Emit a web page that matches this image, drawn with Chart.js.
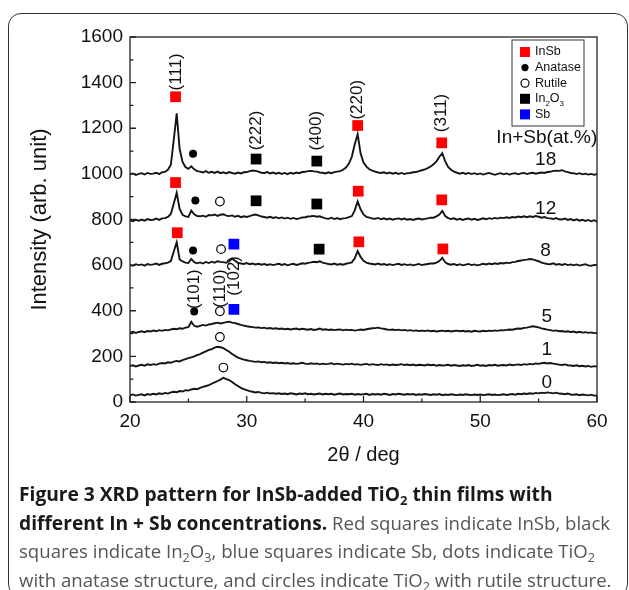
<!DOCTYPE html>
<html>
<head>
<meta charset="UTF-8">
<title>XRD pattern</title>
<style>
body { margin: 0; background: #fff; }
#wrap { position: relative; width: 629px; height: 590px; overflow: hidden; }
#chart { position: absolute; left: 0; top: 0; }
#frame { position: absolute; left: 8px; top: 13px; width: 620px; height: 584px; border: 1.5px solid #333; border-radius: 13px; box-sizing: border-box; }
#caption { position: absolute; left: 19px; top: 480px; font-family: "Open Sans"; font-size: 18.6px; line-height: 28.5px; color: #555; white-space: nowrap; }
#caption b { color: #1a1a1a; font-weight: 700; font-size: 19.2px; }
#caption sub { font-size: 0.68em; line-height: 0; vertical-align: -0.28em; }
</style>
</head>
<body>
<div id="wrap">
<div id="frame"></div>
<canvas id="chart" width="629" height="590"></canvas>
<div id="caption">
<b>Figure 3 XRD pattern for InSb-added TiO<sub>2</sub> thin films with</b><br>
<b>different In + Sb concentrations.</b> Red squares indicate InSb, black<br>
squares indicate In<sub>2</sub>O<sub>3</sub>, blue squares indicate Sb, dots indicate TiO<sub>2</sub><br>
with anatase structure, and circles indicate TiO<sub>2</sub> with rutile structure.
</div>
</div>
<script src="https://cdn.jsdelivr.net/npm/chart.js@4.4.1/dist/chart.umd.min.js"></script>
<script>
// 2theta grid (deg)
const twoTheta = [
  20,20.25,20.5,20.75, 21,21.25,21.5,21.75, 22,22.25,22.5,22.75, 23,23.25,23.5,23.75,
  24,24.25,24.5,24.75, 25,25.25,25.5,25.75, 26,26.25,26.5,26.75, 27,27.25,27.5,27.75,
  28,28.25,28.5,28.75, 29,29.25,29.5,29.75, 30,30.25,30.5,30.75, 31,31.25,31.5,31.75,
  32,32.25,32.5,32.75, 33,33.25,33.5,33.75, 34,34.25,34.5,34.75, 35,35.25,35.5,35.75,
  36,36.25,36.5,36.75, 37,37.25,37.5,37.75, 38,38.25,38.5,38.75, 39,39.25,39.5,39.75,
  40,40.25,40.5,40.75, 41,41.25,41.5,41.75, 42,42.25,42.5,42.75, 43,43.25,43.5,43.75,
  44,44.25,44.5,44.75, 45,45.25,45.5,45.75, 46,46.25,46.5,46.75, 47,47.25,47.5,47.75,
  48,48.25,48.5,48.75, 49,49.25,49.5,49.75, 50,50.25,50.5,50.75, 51,51.25,51.5,51.75,
  52,52.25,52.5,52.75, 53,53.25,53.5,53.75, 54,54.25,54.5,54.75, 55,55.25,55.5,55.75,
  56,56.25,56.5,56.75, 57,57.25,57.5,57.75, 58,58.25,58.5,58.75, 59,59.25,59.5,59.75,
  60
];

// intensities, one array per In+Sb content (at.%)
const int0 = [
  30,33,28,31, 34,29,35,32, 36,33,38,35, 40,37,42,45,
  43,48,46,52, 50,55,58,56, 62,66,70,74, 80,86,92,98,
  106,100,96,88, 78,70,62,56, 52,48,45,42, 44,40,38,41,
  37,39,36,38, 35,37,34,38, 36,33,37,35, 38,34,36,33,
  35,37,33,36, 34,36,32,35, 37,33,35,34, 36,32,35,33,
  34,36,31,35, 33,35,32,36, 34,31,35,33, 36,34,32,35,
  33,35,31,34, 32,35,33,31, 34,32,35,30, 33,31,34,32,
  30,33,31,34, 32,30,33,31, 33,30,32,34, 31,33,30,32,
  34,31,33,35, 32,36,34,37, 35,38,36,40, 38,41,39,42,
  40,38,41,37, 36,34,37,33, 32,34,30,33, 31,29,32,28,
  28
];
const int1 = [
  158,161,156,160, 163,159,165,162, 166,163,168,171, 169,174,172,177,
  180,178,184,188, 192,196,200,205, 210,216,222,228, 232,238,242,240,
  236,228,220,210, 202,195,190,186, 183,180,178,176, 178,174,176,172,
  174,171,173,170, 172,169,171,168, 170,167,169,172, 168,166,170,167,
  169,165,168,166, 167,170,165,168, 166,164,167,165, 168,164,166,163,
  165,167,163,166, 164,162,166,163, 165,161,164,162, 163,166,162,164,
  161,164,160,163, 162,160,164,161, 163,159,162,160, 161,163,159,162,
  160,158,161,159, 162,158,160,163, 159,161,158,162, 160,163,159,161,
  162,160,164,161, 163,165,162,166, 164,167,165,169, 167,170,172,169,
  171,168,166,164, 162,165,161,160, 158,161,157,159, 156,158,154,157,
  155
];
const int5 = [
  304,308,303,307, 310,306,311,309, 313,310,315,312, 316,314,318,321,
  319,323,321,326, 328,352,334,330, 334,338,335,340, 342,345,348,344,
  347,350,352,348, 346,342,338,335, 332,330,328,326, 327,324,326,322,
  324,321,323,320, 322,319,321,318, 320,322,318,321, 319,317,320,316,
  318,322,317,319, 316,318,315,317, 318,314,317,315, 316,313,315,318,
  316,319,321,323, 324,326,323,321, 318,316,318,315, 317,314,316,313,
  315,312,314,311, 313,311,314,310, 312,309,311,313, 310,312,309,311,
  313,310,312,309, 311,308,312,310, 309,312,310,313, 311,314,312,315,
  314,316,318,317, 320,322,321,325, 326,329,332,330, 327,323,320,317,
  315,312,314,310, 311,308,310,307, 309,305,308,304, 306,303,305,302,
  303
];
const int8 = [
  601,597,604,600, 603,598,605,601, 603,607,601,606, 608,611,618,660,
  700,625,616,611, 609,627,613,608, 612,607,614,609, 615,611,617,614,
  613,610,618,628, 619,610,607,605, 609,604,607,603, 606,602,605,601,
  604,600,603,606, 601,605,599,603, 606,601,604,608, 606,610,612,615,
  613,617,611,608, 605,603,607,602, 605,602,606,609, 612,630,662,636,
  619,611,607,605, 603,607,602,605, 601,604,600,603, 606,601,604,600,
  603,599,602,605, 600,603,605,607, 607,611,618,632, 612,605,602,605,
  600,604,599,602, 605,600,603,599, 602,606,603,607, 604,608,605,609,
  607,611,609,613, 614,618,620,623, 624,627,625,621, 617,611,608,605,
  604,608,602,605, 601,605,600,603, 599,603,598,601, 604,599,597,601,
  600
];
const int12 = [
  796,792,799,795, 800,795,802,798, 799,804,798,805, 806,811,824,870,
  917,846,821,814, 811,839,823,815, 814,817,812,820, 818,822,816,821,
  823,817,815,818, 812,816,810,814, 811,815,819,822, 818,813,811,808,
  812,807,810,805, 809,804,808,803, 807,802,805,809, 810,813,814,816,
  812,814,809,805, 803,808,802,806, 801,805,806,810, 815,840,879,845,
  822,811,808,804, 803,807,801,805, 800,804,799,803, 805,800,804,799,
  802,798,802,804, 800,803,805,808, 808,814,822,838, 815,806,802,805,
  799,803,798,802, 804,799,803,798, 801,805,801,806, 803,807,804,808,
  806,810,807,811, 809,813,810,814, 810,814,811,815, 812,808,811,806,
  805,802,806,801, 800,804,798,802, 796,801,795,799, 794,798,792,797,
  791
];
const int18 = [
  998,1002,995,1000, 1003,997,1004,1000, 1001,1005,999,1007, 1009,1018,1040,1150,
  1265,1110,1052,1030, 1022,1033,1020,1012, 1010,1006,1012,1005, 1009,1004,1010,1003,
  1007,1002,1008,1004, 1001,1006,1002,1007, 1008,1012,1015,1013, 1010,1005,1004,1008,
  1002,1006,1001,1005, 1000,1004,999,1005, 1001,1006,1003,1008, 1009,1012,1013,1011,
  1010,1006,1005,1002, 1007,1003,1008,1010, 1012,1018,1028,1045, 1075,1130,1174,1090,
  1050,1032,1020,1014, 1010,1006,1004,1007, 1002,1006,1001,1005, 1000,1004,999,1003,
  1004,1007,1008,1012, 1016,1020,1025,1032, 1042,1055,1075,1091, 1055,1030,1018,1010,
  1005,1001,1005,1000, 1004,999,1003,998, 1002,997,1001,1004, 1000,996,1000,1003,
  998,1002,997,1001, 1003,998,1002,1004, 999,1003,1005,1001, 1004,1006,1004,1008,
  1009,1013,1014,1013, 1016,1011,1008,1004, 1003,999,1003,998, 1001,997,1000,996,
  999
];

const curves = [int0, int1, int5, int8, int12, int18];
const curveNames = ['0', '1', '5', '8', '12', '18'];
// where the sample numbers sit (2theta, intensity)
const curveLabelX = [55.7, 55.7, 55.7, 55.6, 55.6, 55.6];
const curveLabelY = [86, 228, 375, 662, 848, 1062];

// phase markers (2theta, intensity)
const insbX = [23.9, 39.5, 46.7, 23.9, 39.55, 46.7, 24.05, 39.6, 46.8];
const insbY = [1338, 1212, 1136, 962, 924, 886, 742, 702, 671];
const anataseX = [25.4, 25.6, 25.4, 25.5];
const anataseY = [1088, 883, 664, 397];
const rutileX = [27.7, 27.8, 27.7, 27.7, 28.0];
const rutileY = [879, 670, 398, 285, 151];
const in2o3X = [30.8, 36.0, 30.8, 36.0, 36.2];
const in2o3Y = [1065, 1056, 882, 868, 670];
const sbX = [28.9, 28.9];
const sbY = [692, 406];

// reflection labels
const hklText = ['(111)', '(222)', '(400)', '(220)', '(311)', '(101)', '(110)', '(102)'];
const hklX = [24.0, 30.85, 36.0, 39.5, 46.7, 25.5, 27.75, 28.95];
const hklY = [1447, 1190, 1189, 1325, 1267, 495, 497, 553];

const legendItems = ['InSb', 'Anatase', 'Rutile', 'In2O3', 'Sb'];

function pts(xs, ys) {
    return xs.map(function (x, i) { return {x: x, y: ys[i]}; });
}

const datasets = [];
curves.forEach(function (c) {
    datasets.push({
        data: pts(twoTheta, c),
        showLine: true,
        borderColor: '#151515',
        borderWidth: 1.9,
        pointRadius: 0,
        tension: 0
    });
});
datasets.push({data: pts(insbX, insbY), pointStyle: 'rect', pointRadius: 7.6, backgroundColor: '#ff0000', borderWidth: 0});
datasets.push({data: pts(in2o3X, in2o3Y), pointStyle: 'rect', pointRadius: 7.6, backgroundColor: '#000', borderWidth: 0});
datasets.push({data: pts(sbX, sbY), pointStyle: 'rect', pointRadius: 7.6, backgroundColor: '#0000ff', borderWidth: 0});
datasets.push({data: pts(anataseX, anataseY), pointStyle: 'circle', pointRadius: 4, backgroundColor: '#000', borderWidth: 0});
datasets.push({data: pts(rutileX, rutileY), pointStyle: 'circle', pointRadius: 4.3, backgroundColor: '#fff', borderColor: '#000', borderWidth: 1.2});

const decor = {
    id: 'decor',
    afterDraw(chart) {
        const ctx = chart.ctx;
        const a = chart.chartArea;
        const xs = chart.scales.x, ys = chart.scales.y;
        ctx.save();
        ctx.strokeStyle = '#222';
        ctx.lineWidth = 1.3;
        ctx.strokeRect(a.left, a.top, a.right - a.left, a.bottom - a.top);
        // inward ticks
        ctx.beginPath();
        for (let v = 20; v <= 60; v += 5) {
            const p = xs.getPixelForValue(v);
            const len = v % 10 === 0 ? 6 : 3.5;
            ctx.moveTo(p, a.bottom); ctx.lineTo(p, a.bottom - len);
        }
        for (let v = 0; v <= 1600; v += 100) {
            const p = ys.getPixelForValue(v);
            const len = v % 200 === 0 ? 6 : 3.5;
            ctx.moveTo(a.left, p); ctx.lineTo(a.left + len, p);
        }
        ctx.stroke();

        ctx.fillStyle = '#111';
        // hkl labels, rotated
        ctx.font = '17px "Liberation Sans", Arial';
        ctx.textAlign = 'center';
        ctx.textBaseline = 'middle';
        hklText.forEach(function (t, i) {
            ctx.save();
            ctx.translate(xs.getPixelForValue(hklX[i]), ys.getPixelForValue(hklY[i]));
            ctx.rotate(-Math.PI / 2);
            ctx.fillText(t, 0, 0);
            ctx.restore();
        });
        // sample numbers
        ctx.font = '19px "Liberation Sans", Arial';
        curveNames.forEach(function (t, i) {
            ctx.fillText(t, xs.getPixelForValue(curveLabelX[i]), ys.getPixelForValue(curveLabelY[i]));
        });
        ctx.fillText('In+Sb(at.%)', xs.getPixelForValue(55.7), ys.getPixelForValue(1160));

        // legend box
        const bx = a.right - 85, by = a.top + 3, bw = 72, bh = 86;
        ctx.lineWidth = 1;
        ctx.strokeStyle = '#333';
        ctx.strokeRect(bx, by, bw, bh);
        ctx.font = '12.5px "Liberation Sans", Arial';
        ctx.textAlign = 'left';
        const mx = bx + 13, tx = bx + 23;
        legendItems.forEach(function (name, i) {
            const y = by + 12 + i * 15.6;
            if (i === 0 || i === 3 || i === 4) {
                ctx.fillStyle = i === 0 ? '#ff0000' : (i === 3 ? '#000' : '#0000ff');
                ctx.fillRect(mx - 5, y - 5, 10, 10);
            } else if (i === 1) {
                ctx.fillStyle = '#000';
                ctx.beginPath(); ctx.arc(mx, y, 3.6, 0, Math.PI * 2); ctx.fill();
            } else {
                ctx.strokeStyle = '#000'; ctx.lineWidth = 1.2;
                ctx.beginPath(); ctx.arc(mx, y, 4, 0, Math.PI * 2); ctx.stroke();
            }
            ctx.fillStyle = '#111';
            if (name === 'In2O3') {
                let x = tx;
                ctx.font = '12.5px "Liberation Sans", Arial';
                ctx.fillText('In', x, y); x += ctx.measureText('In').width;
                ctx.font = '8px "Liberation Sans", Arial';
                ctx.fillText('2', x, y + 5); x += ctx.measureText('2').width;
                ctx.font = '12.5px "Liberation Sans", Arial';
                ctx.fillText('O', x, y); x += ctx.measureText('O').width;
                ctx.font = '8px "Liberation Sans", Arial';
                ctx.fillText('3', x, y + 5);
                ctx.font = '12.5px "Liberation Sans", Arial';
            } else {
                ctx.fillText(name, tx, y);
            }
        });
        ctx.restore();
    }
};

Chart.defaults.font.family = '"Liberation Sans", Arial, sans-serif';
Chart.defaults.color = '#111';

new Chart(document.getElementById('chart'), {
    type: 'scatter',
    data: {datasets: datasets},
    options: {
        responsive: false,
        animation: false,
        layout: {padding: {left: 0, right: 32, top: 37, bottom: 123}},
        plugins: {legend: {display: false}, tooltip: {enabled: false}},
        scales: {
            x: {
                min: 20, max: 60,
                grid: {display: false, drawTicks: false},
                border: {display: false},
                ticks: {stepSize: 10, padding: 8, font: {size: 19}, callback: function (v) { return String(v); }},
                title: {display: true, text: '2\u03b8 / deg', font: {size: 20}, padding: {top: 0, bottom: 0}},
                afterFit: function (s) { s.height = 65; }
            },
            y: {
                min: 0, max: 1600,
                grid: {display: false, drawTicks: false},
                border: {display: false},
                ticks: {stepSize: 200, padding: 7, font: {size: 19}, callback: function (v) { return String(v); }},
                title: {display: true, text: 'Intensity (arb. unit)', font: {size: 22}, padding: {top: 27, bottom: 0}},
                afterFit: function (s) { s.width = 130; }
            }
        }
    },
    plugins: [decor]
});
</script>
</body>
</html>
